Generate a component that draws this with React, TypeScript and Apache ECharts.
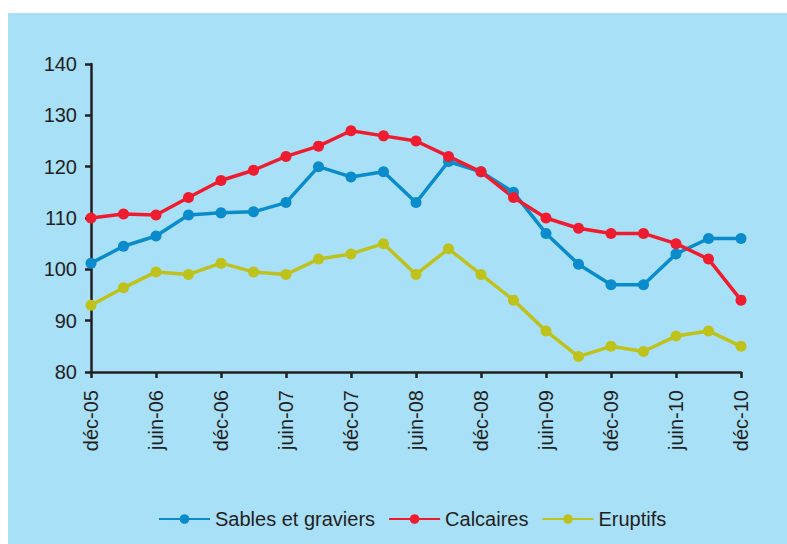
import React, { useEffect, useRef } from "react";
import * as echarts from "echarts";

const categories = [
  "déc-05", "mar-06", "juin-06", "sept-06", "déc-06", "mar-07", "juin-07", "sept-07",
  "déc-07", "mar-08", "juin-08", "sept-08", "déc-08", "mar-09", "juin-09", "sept-09",
  "déc-09", "mar-10", "juin-10", "sept-10", "déc-10",
];

const sables = [101.2, 104.5, 106.5, 110.6, 111, 111.2, 113, 120, 118, 119, 113, 121, 119, 115, 107, 101, 97, 97, 103, 106, 106];
const calcaires = [110, 110.8, 110.6, 114, 117.3, 119.3, 122, 124, 127, 126, 125, 122, 119, 114, 110, 108, 107, 107, 105, 102, 94];
const eruptifs = [93, 96.4, 99.5, 99, 101.2, 99.5, 99, 102, 103, 105, 99, 104, 99, 94, 88, 83, 85, 84, 87, 88, 85];

const names = ["Sables et graviers", "Calcaires", "Eruptifs"];
const colors = ["#0a8ccc", "#ee1c2e", "#bfc21a"];

export default function App() {
  const ref = useRef<HTMLDivElement>(null);
  useEffect(() => {
    if (!ref.current) return;
    const chart = echarts.init(ref.current, undefined, { renderer: "svg" });
    const font = "'Liberation Sans', Arial, sans-serif";
    const mk = (name: string, data: number[], color: string) => ({
      name,
      type: "line",
      data,
      symbol: "circle",
      symbolSize: 11,
      lineStyle: { width: 3.5, color },
      itemStyle: { color },
    });
    chart.setOption({
      animation: false,
      backgroundColor: "transparent",
      textStyle: { fontFamily: font },
      grid: { left: 83, right: 46, top: 51, bottom: 172 },
      legend: {
        left: 150,
        top: 496,
        padding: 0,
        itemWidth: 51,
        itemHeight: 12,
        itemGap: 13,
        textStyle: { fontSize: 20, color: "#231f20", fontFamily: font },
        data: names,
      },
      xAxis: {
        type: "category",
        data: categories,
        boundaryGap: false,
        axisLine: { lineStyle: { color: "#231f20", width: 2.5 } },
        axisTick: { show: true, interval: 1, length: 6, lineStyle: { color: "#231f20", width: 2.5 } },
        axisLabel: {
          interval: 1,
          rotate: 90,
          margin: 18,
          fontSize: 20,
          color: "#231f20",
          fontFamily: font,
        },
        splitLine: { show: false },
      },
      yAxis: {
        type: "value",
        min: 80,
        max: 140,
        interval: 10,
        axisLine: { show: true, lineStyle: { color: "#231f20", width: 2.5 } },
        axisTick: { show: true, length: 6, lineStyle: { color: "#231f20", width: 2.5 } },
        axisLabel: { fontSize: 20, color: "#231f20", margin: 14, fontFamily: font },
        splitLine: { show: false },
      },
      series: [
        mk(names[0], sables, colors[0]),
        mk(names[1], calcaires, colors[1]),
        mk(names[2], eruptifs, colors[2]),
      ],
    });
    return () => chart.dispose();
  }, []);
  return (
    <div
      style={{
        position: "absolute",
        left: 8,
        top: 13,
        width: 779,
        height: 531,
        background: "#a8e0f8",
      }}
    >
      <div ref={ref} style={{ width: 779, height: 531 }} />
    </div>
  );
}
